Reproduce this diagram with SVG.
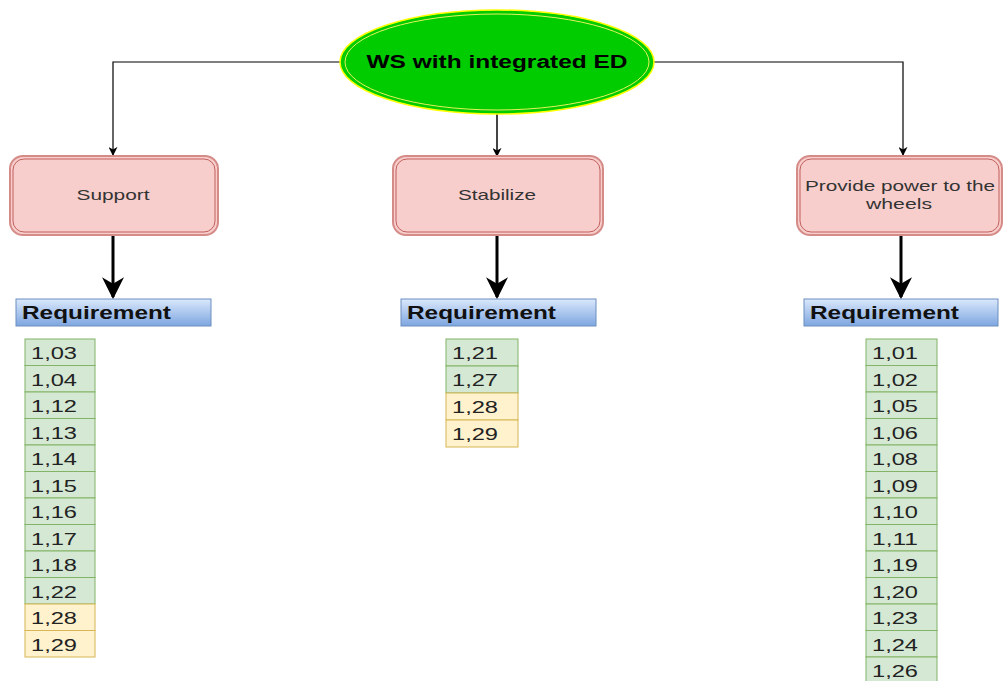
<svg xmlns="http://www.w3.org/2000/svg" width="1003" height="681" viewBox="0 0 1003 681">
<defs>
<linearGradient id="reqg" x1="0" y1="0" x2="0" y2="1">
<stop offset="0" stop-color="#dae8fc"/>
<stop offset="1" stop-color="#7ea6e0"/>
</linearGradient>
<marker id="sm" viewBox="0 0 10 10" refX="9" refY="5" markerWidth="9" markerHeight="9" markerUnits="userSpaceOnUse" orient="auto">
<path d="M0,0 L10,5 L0,10 L3,5 Z" fill="#000"/>
</marker>
<marker id="bm" viewBox="0 0 10 10" refX="9" refY="5" markerWidth="22" markerHeight="22" markerUnits="userSpaceOnUse" orient="auto">
<path d="M0,0 L10,5 L0,10 L3,5 Z" fill="#000"/>
</marker>
<style>
.thin{fill:none;stroke:#000;stroke-width:1.2}
.thick{fill:none;stroke:#000;stroke-width:3}
.fo{fill:#f8cecc;stroke:#d58c89;stroke-width:2}
.fi{fill:none;stroke:#c0605c;stroke-width:1}
.ft{font-family:"Liberation Sans",Arial,sans-serif;font-size:15px;fill:#333;text-anchor:middle}
.req{fill:url(#reqg);stroke:#6c8ebf;stroke-width:1}
.rt{font-family:"Liberation Sans",Arial,sans-serif;font-size:18px;font-weight:bold;fill:#111}
.g{fill:#d5e8d4;stroke:#82b366;stroke-width:1}
.y{fill:#fff2cc;stroke:#d6b656;stroke-width:1}
.nt{font-family:"Liberation Sans",Arial,sans-serif;font-size:17px;fill:#222}
</style>
</defs>
<rect width="1003" height="681" fill="#fff"/>
<g id="connectors">
<path class="thin" d="M342,62 H113 V155" marker-end="url(#sm)"/>
<path class="thin" d="M652,62 H903 V155" marker-end="url(#sm)"/>
<path d="M497,114 V156" fill="none" stroke="#444" stroke-width="2" marker-end="url(#sm)"/>
<path class="thick" d="M113,236 V297" marker-end="url(#bm)"/>
<path class="thick" d="M497,236 V297" marker-end="url(#bm)"/>
<path class="thick" d="M901,236 V297" marker-end="url(#bm)"/>
</g>
<g id="root">
<ellipse cx="497" cy="62" rx="157" ry="52" fill="#00cc00" stroke="#ffff00" stroke-width="1.5"/>
<ellipse cx="497" cy="62" rx="152" ry="48" fill="none" stroke="#e6f25a" stroke-width="1"/>
<text x="497" y="68" text-anchor="middle" font-family="Liberation Sans,Arial,sans-serif" font-size="18" font-weight="bold" fill="#000" textLength="261" lengthAdjust="spacingAndGlyphs">WS with integrated ED</text>
</g>
<g id="support">
<rect class="fo" x="10" y="156" width="208" height="79" rx="13"/>
<rect class="fi" x="13" y="159" width="202" height="73" rx="11"/>
<text class="ft" x="113" y="200" textLength="73" lengthAdjust="spacingAndGlyphs">Support</text>
</g>
<g id="stabilize">
<rect class="fo" x="393" y="156" width="210" height="79" rx="13"/>
<rect class="fi" x="396" y="159" width="204" height="73" rx="11"/>
<text class="ft" x="497" y="200" textLength="78" lengthAdjust="spacingAndGlyphs">Stabilize</text>
</g>
<g id="power">
<rect class="fo" x="797" y="156" width="205" height="79" rx="13"/>
<rect class="fi" x="800" y="159" width="199" height="73" rx="11"/>
<text class="ft" x="900" y="191" textLength="190" lengthAdjust="spacingAndGlyphs">Provide power to the</text>
<text class="ft" x="899" y="209" textLength="66" lengthAdjust="spacingAndGlyphs">wheels</text>
</g>
<g id="req-support">
<rect class="req" x="16" y="299" width="195" height="27"/>
<text class="rt" x="22" y="319" textLength="149" lengthAdjust="spacingAndGlyphs">Requirement</text>
</g>
<g id="req-stabilize">
<rect class="req" x="401" y="299" width="195" height="27"/>
<text class="rt" x="407" y="319" textLength="149" lengthAdjust="spacingAndGlyphs">Requirement</text>
</g>
<g id="req-power">
<rect class="req" x="804" y="299" width="194" height="27"/>
<text class="rt" x="810" y="319" textLength="149" lengthAdjust="spacingAndGlyphs">Requirement</text>
</g>
<g id="list-support">
<rect class="g" x="25" y="339" width="70" height="26.5"/><text class="nt" x="31" y="359" textLength="46" lengthAdjust="spacingAndGlyphs">1,03</text>
<rect class="g" x="25" y="365.5" width="70" height="26.5"/><text class="nt" x="31" y="385.5" textLength="46" lengthAdjust="spacingAndGlyphs">1,04</text>
<rect class="g" x="25" y="392" width="70" height="26.5"/><text class="nt" x="31" y="412" textLength="46" lengthAdjust="spacingAndGlyphs">1,12</text>
<rect class="g" x="25" y="418.5" width="70" height="26.5"/><text class="nt" x="31" y="438.5" textLength="46" lengthAdjust="spacingAndGlyphs">1,13</text>
<rect class="g" x="25" y="445" width="70" height="26.5"/><text class="nt" x="31" y="465" textLength="46" lengthAdjust="spacingAndGlyphs">1,14</text>
<rect class="g" x="25" y="471.5" width="70" height="26.5"/><text class="nt" x="31" y="491.5" textLength="46" lengthAdjust="spacingAndGlyphs">1,15</text>
<rect class="g" x="25" y="498" width="70" height="26.5"/><text class="nt" x="31" y="518" textLength="46" lengthAdjust="spacingAndGlyphs">1,16</text>
<rect class="g" x="25" y="524.5" width="70" height="26.5"/><text class="nt" x="31" y="544.5" textLength="46" lengthAdjust="spacingAndGlyphs">1,17</text>
<rect class="g" x="25" y="551" width="70" height="26.5"/><text class="nt" x="31" y="571" textLength="46" lengthAdjust="spacingAndGlyphs">1,18</text>
<rect class="g" x="25" y="577.5" width="70" height="26.5"/><text class="nt" x="31" y="597.5" textLength="46" lengthAdjust="spacingAndGlyphs">1,22</text>
<rect class="y" x="25" y="604" width="70" height="26.5"/><text class="nt" x="31" y="624" textLength="46" lengthAdjust="spacingAndGlyphs">1,28</text>
<rect class="y" x="25" y="630.5" width="70" height="26.5"/><text class="nt" x="31" y="650.5" textLength="46" lengthAdjust="spacingAndGlyphs">1,29</text>
</g>
<g id="list-stabilize">
<rect class="g" x="446" y="339" width="72" height="27"/><text class="nt" x="452" y="359" textLength="46" lengthAdjust="spacingAndGlyphs">1,21</text>
<rect class="g" x="446" y="366" width="72" height="27"/><text class="nt" x="452" y="386" textLength="46" lengthAdjust="spacingAndGlyphs">1,27</text>
<rect class="y" x="446" y="393" width="72" height="27"/><text class="nt" x="452" y="413" textLength="46" lengthAdjust="spacingAndGlyphs">1,28</text>
<rect class="y" x="446" y="420" width="72" height="27"/><text class="nt" x="452" y="440" textLength="46" lengthAdjust="spacingAndGlyphs">1,29</text>
</g>
<g id="list-power">
<rect class="g" x="866" y="339" width="71" height="26.5"/><text class="nt" x="872" y="359" textLength="46" lengthAdjust="spacingAndGlyphs">1,01</text>
<rect class="g" x="866" y="365.5" width="71" height="26.5"/><text class="nt" x="872" y="385.5" textLength="46" lengthAdjust="spacingAndGlyphs">1,02</text>
<rect class="g" x="866" y="392" width="71" height="26.5"/><text class="nt" x="872" y="412" textLength="46" lengthAdjust="spacingAndGlyphs">1,05</text>
<rect class="g" x="866" y="418.5" width="71" height="26.5"/><text class="nt" x="872" y="438.5" textLength="46" lengthAdjust="spacingAndGlyphs">1,06</text>
<rect class="g" x="866" y="445" width="71" height="26.5"/><text class="nt" x="872" y="465" textLength="46" lengthAdjust="spacingAndGlyphs">1,08</text>
<rect class="g" x="866" y="471.5" width="71" height="26.5"/><text class="nt" x="872" y="491.5" textLength="46" lengthAdjust="spacingAndGlyphs">1,09</text>
<rect class="g" x="866" y="498" width="71" height="26.5"/><text class="nt" x="872" y="518" textLength="46" lengthAdjust="spacingAndGlyphs">1,10</text>
<rect class="g" x="866" y="524.5" width="71" height="26.5"/><text class="nt" x="872" y="544.5" textLength="46" lengthAdjust="spacingAndGlyphs">1,11</text>
<rect class="g" x="866" y="551" width="71" height="26.5"/><text class="nt" x="872" y="571" textLength="46" lengthAdjust="spacingAndGlyphs">1,19</text>
<rect class="g" x="866" y="577.5" width="71" height="26.5"/><text class="nt" x="872" y="597.5" textLength="46" lengthAdjust="spacingAndGlyphs">1,20</text>
<rect class="g" x="866" y="604" width="71" height="26.5"/><text class="nt" x="872" y="624" textLength="46" lengthAdjust="spacingAndGlyphs">1,23</text>
<rect class="g" x="866" y="630.5" width="71" height="26.5"/><text class="nt" x="872" y="650.5" textLength="46" lengthAdjust="spacingAndGlyphs">1,24</text>
<rect class="g" x="866" y="657" width="71" height="26.5"/><text class="nt" x="872" y="677" textLength="46" lengthAdjust="spacingAndGlyphs">1,26</text>
</g>
</svg>
